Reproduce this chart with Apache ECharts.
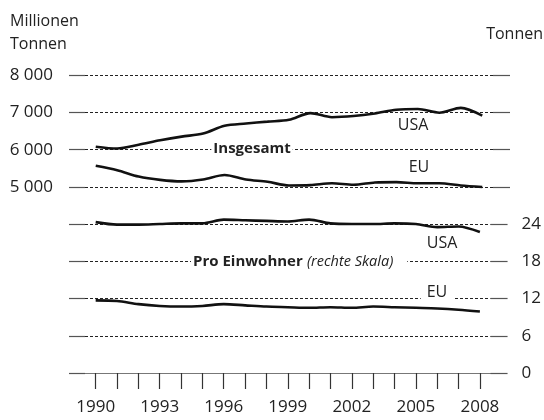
<!DOCTYPE html>
<html>
<head>
<meta charset="utf-8">
<script src="https://cdn.jsdelivr.net/npm/echarts@6/dist/echarts.min.js"></script>
<style>
  html, body { margin: 0; padding: 0; background: #fff; }
  #chart { width: 544px; height: 420px; }
</style>
</head>
<body>
<div id="chart"></div>
<script>
// Jahre
const years = ['1990', '1991', '1992', '1993', '1994', '1995', '1996', '1997', '1998', '1999',
  '2000', '2001', '2002', '2003', '2004', '2005', '2006', '2007', '2008'];
// Insgesamt, Millionen Tonnen
const usaTotal = [6080, 6030, 6130, 6250, 6350, 6430, 6640, 6700, 6750, 6800,
  6980, 6870, 6900, 6970, 7070, 7090, 6990, 7120, 6910];
const euTotal = [5570, 5450, 5280, 5190, 5150, 5200, 5320, 5200, 5140, 5040,
  5050, 5100, 5060, 5120, 5130, 5100, 5100, 5040, 5000];
// Pro Einwohner, Tonnen (rechte Skala)
const usaPerCapita = [24.3, 23.9, 23.9, 24.0, 24.1, 24.1, 24.7, 24.6, 24.5, 24.4,
  24.7, 24.1, 24.0, 24.0, 24.1, 24.0, 23.5, 23.6, 22.7];
const euPerCapita = [11.7, 11.6, 11.1, 10.8, 10.7, 10.8, 11.1, 10.9, 10.7, 10.6,
  10.5, 10.6, 10.5, 10.7, 10.6, 10.5, 10.4, 10.2, 9.9];

const FONT = '"Open Sans", sans-serif';
const TXT = '#222';
const dotted = { show: true, lineStyle: { color: '#222', width: 1, type: [3, 2] } };
const tick = (len) => ({ show: true, length: len, lineStyle: { color: '#555', width: 1.2 } });

const chart = echarts.init(document.getElementById('chart'));

const line = (data, x, y) => ({
  type: 'line',
  data: data,
  xAxisIndex: x,
  yAxisIndex: y,
  smooth: 0.3,
  showSymbol: false,
  clip: false, // USA pro Kopf liegt knapp über 24
  silent: true,
  lineStyle: { color: '#111', width: 2.6 },
});

const label = (text, x, y, extra) => Object.assign({
  type: 'text',
  x: x,
  y: y,
  z: 100,
  style: Object.assign({
    text: text,
    fill: TXT,
    font: '16px ' + FONT,
    align: 'center',
    verticalAlign: 'middle',
  }, extra || {}),
});

chart.setOption({
  animation: false,
  grid: [
    { left: 85, right: 51, top: 75, height: 112 },
    { left: 85, right: 51, top: 224, height: 149 },
  ],
  xAxis: [
    { gridIndex: 0, type: 'category', data: years, show: false },
    {
      gridIndex: 1,
      type: 'category',
      data: years,
      axisLine: { show: true, lineStyle: { color: '#777', width: 1.2 } },
      axisTick: { show: true, alignWithLabel: true, interval: 0, length: 16, lineStyle: { color: '#333', width: 1.2 } },
      axisLabel: { interval: 2, margin: 26, color: TXT, fontSize: 17, fontFamily: FONT },
    },
  ],
  yAxis: [
    {
      gridIndex: 0, position: 'left', type: 'value', min: 5000, max: 8000, interval: 1000,
      axisLine: { show: false }, axisTick: tick(16), splitLine: dotted,
      axisLabel: {
        margin: 32, color: TXT, fontSize: 17, fontFamily: FONT,
        formatter: (v) => String(v).replace(/\B(?=(\d{3})+(?!\d))/g, ' '),
      },
    },
    {
      gridIndex: 0, position: 'right', type: 'value', min: 5000, max: 8000, interval: 1000,
      axisLine: { show: false }, axisTick: tick(17), splitLine: { show: false },
      axisLabel: { show: false },
    },
    {
      gridIndex: 1, position: 'left', type: 'value', min: 0, max: 24, interval: 6,
      axisLine: { show: false }, axisTick: tick(16), splitLine: dotted,
      axisLabel: { show: false },
    },
    {
      gridIndex: 1, position: 'right', type: 'value', min: 0, max: 24, interval: 6,
      axisLine: { show: false }, axisTick: tick(17), splitLine: { show: false },
      axisLabel: { margin: 31, color: TXT, fontSize: 17, fontFamily: FONT },
    },
  ],
  series: [
    line(usaTotal, 0, 0),
    line(euTotal, 0, 0),
    line(usaPerCapita, 1, 3),
    line(euPerCapita, 1, 3),
  ],
  graphic: [
    label('Millionen', 10, 21, { align: 'left' }),
    label('Tonnen', 10, 44, { align: 'left' }),
    label('Tonnen', 543, 34, { align: 'right' }),
    label('Insgesamt', 252, 149, { font: 'bold 15px ' + FONT, backgroundColor: '#fff', padding: [1, 2, 1, 2] }),
    label('USA', 413, 125),
    label('EU', 419, 167),
    label('{b|Pro Einwohner} {i|(rechte Skala)}', 191, 262, {
      align: 'left', backgroundColor: '#fff', padding: [1, 14, 1, 2],
      rich: {
        b: { fontFamily: FONT, fontSize: 15, fontWeight: 'bold', fill: TXT },
        i: { fontFamily: FONT, fontSize: 14.5, fontStyle: 'italic', fill: TXT },
      },
    }),
    label('USA', 442, 243),
    label('EU', 437, 292, { backgroundColor: '#fff', padding: [2, 6, 3, 6] }),
  ],
});
</script>
</body>
</html>
